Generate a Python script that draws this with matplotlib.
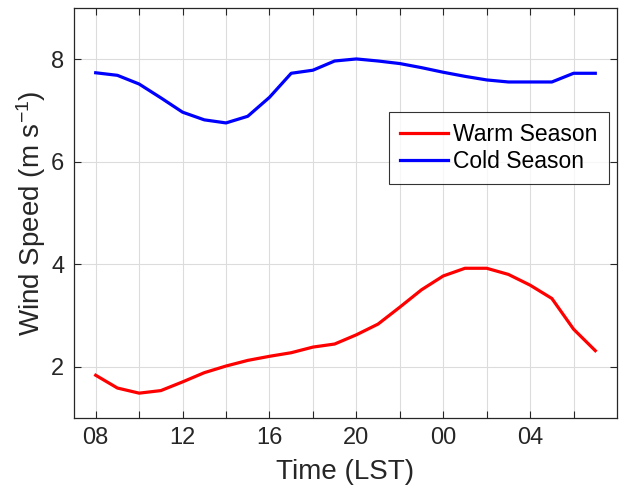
import matplotlib
matplotlib.use("Agg")
import matplotlib.pyplot as plt

plt.rcParams['font.family'] = ['Liberation Sans', 'DejaVu Sans']
plt.rcParams['mathtext.default'] = 'regular'

hours = list(range(8, 32))
warm = [1.83, 1.58, 1.48, 1.53, 1.70, 1.88, 2.01, 2.12, 2.20, 2.27, 2.38, 2.44,
        2.62, 2.83, 3.16, 3.50, 3.77, 3.92, 3.92, 3.80, 3.59, 3.33, 2.73, 2.31]
cold = [7.74, 7.69, 7.52, 7.25, 6.97, 6.82, 6.76, 6.89, 7.26, 7.73, 7.79, 7.97,
        8.01, 7.97, 7.92, 7.84, 7.75, 7.67, 7.60, 7.56, 7.56, 7.56, 7.73, 7.73]
xtick_pos = list(range(8, 32, 2))
xtick_labels = ['08', '', '12', '', '16', '', '20', '', '00', '', '04', '']
yticks = [2, 4, 6, 8]

fig = plt.figure(figsize=(6.19, 4.93), dpi=100)
ax = fig.add_axes([0.1195, 0.1527, 0.8773, 0.8305])

ax.plot(hours, warm, color=(1, 0, 0), lw=2.3, label='Warm Season')
ax.plot(hours, cold, color=(0, 0, 1), lw=2.3, label='Cold Season')

ax.set_xlim(7, 32)
ax.set_ylim(1, 9)
ax.set_xticks(xtick_pos)
ax.set_xticklabels(xtick_labels)
ax.set_yticks(yticks)

ax.grid(True, color='#dcdcdc', lw=0.8)
ax.set_axisbelow(True)
ax.tick_params(direction='in', top=True, right=True, length=5, width=0.8,
               labelsize=17, colors='#262626', pad=7)
for s in ax.spines.values():
    s.set_color('#262626')
    s.set_linewidth(0.9)

ax.set_xlabel('Time (LST)', fontsize=20, color='#262626', labelpad=7)
ax.set_ylabel('Wind Speed (m s$^{-1}$)', fontsize=20, color='#262626', labelpad=2)

leg = ax.legend(loc='upper right', bbox_to_anchor=(0.985, 0.747), fontsize=16.5,
                frameon=True, fancybox=False, edgecolor='black',
                handlelength=2.1, borderaxespad=0, handletextpad=0.2,
                labelspacing=0.15, borderpad=0.5)
leg.get_frame().set_linewidth(0.8)

fig.savefig('out.png', dpi=100)
